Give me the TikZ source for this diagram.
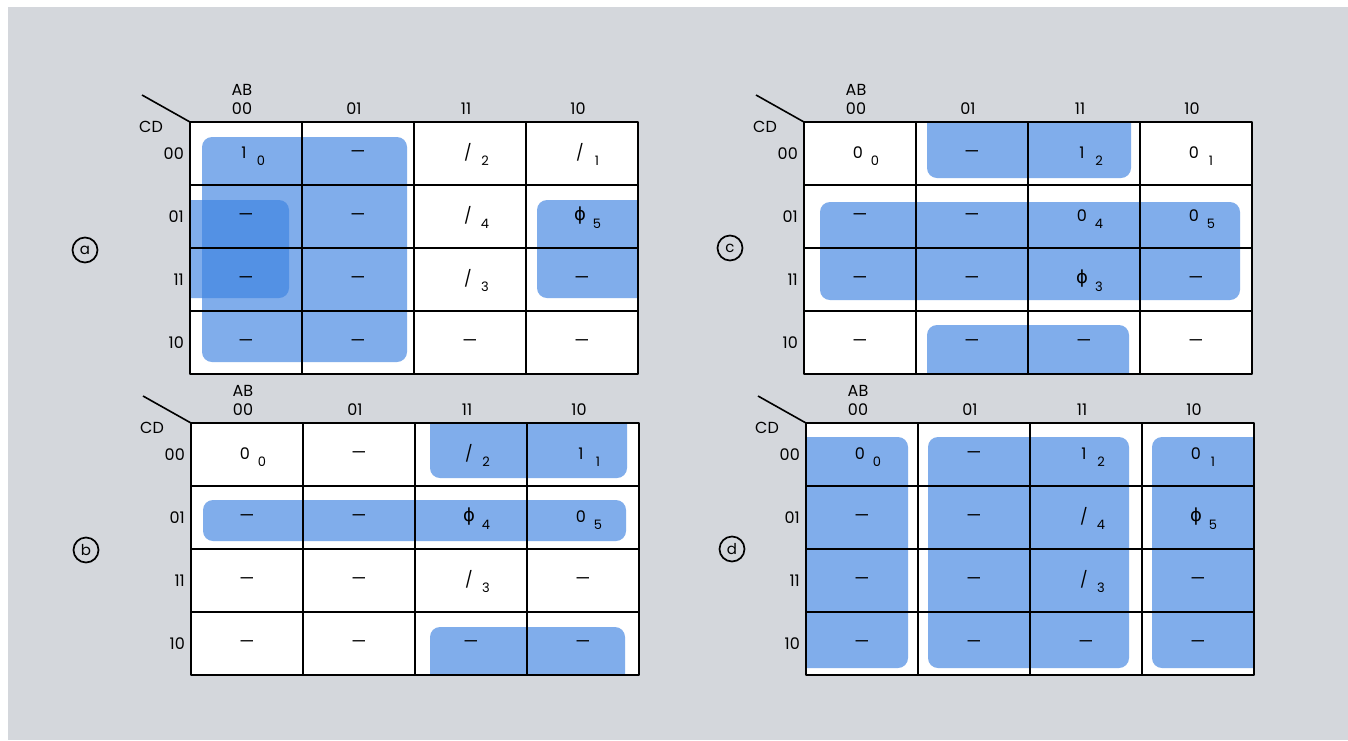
\documentclass[tikz,border=0pt]{standalone}
\usepackage{fontspec}
\setmainfont{Poppins}
\newfontfamily\symfont{DejaVu Sans}
\definecolor{paper}{RGB}{212,215,220}
\definecolor{kblue}{RGB}{60,130,225}
\tikzset{
	kfill/.style={fill=kblue,opacity=.65,rounded corners=10pt},
	val/.style={font=\fontsize{16}{16}\selectfont,inner sep=0pt},
	dsh/.style={font=\fontsize{17}{17}\selectfont,inner sep=0pt},
	sub/.style={font=\fontsize{13}{13}\selectfont,inner sep=0pt},
	lbl/.style={font=\fontsize{16}{16}\selectfont,inner sep=0pt},
	tag/.style={circle,draw,line width=1.7pt,minimum size=25pt,inner sep=0pt,font=\fontsize{15}{15}\selectfont},
}
\def\sl{/} \def\ph{{\symfont\fontsize{18}{18}\selectfont ϕ}}
% #1 name, #2 #3 top left corner, #4 entries, #5 blue groups
\newcommand\kmap[5]{%
	\begin{scope}[shift={(#2,#3)}]
		\fill[white] (0,0) rectangle (\mw,\mh);
		\begin{scope}
			\clip (0,0) rectangle (\mw,\mh);
			#5
		\end{scope}
		\foreach \i in {1,2,3} {
			\draw[line width=1.4pt] (\i*\cw,0) -- (\i*\cw,\mh);
			\draw[line width=1.4pt] (0,\i*\ch) -- (\mw,\i*\ch);}
		\draw[line width=2.6pt] (0,0) rectangle (\mw,\mh);
		\draw[line width=1.6pt] (-48,-27) -- (0,0);
		\node[lbl] (#1-cd) at (-39,5) {CD};
		\node[lbl] (#1-ab) at (0.5*\cw-4,-32) {AB};
		\foreach \k/\t in {1/00,2/01,3/11,4/10} {
			\node[lbl] (#1-c\k) at ({(\k-.5)*\cw-4},-13) {\t};
			\node[lbl,anchor=east] (#1-r\k) at ({-6},{(\k-.5)*\ch}) {\t};}
		\foreach \col/\row in {2/1,1/2,2/2,1/3,2/3,4/3,1/4,2/4,3/4,4/4}
			\node[dsh] (#1-\col\row) at ({(\col-.5)*\cw},{(\row-.5)*\ch+1}) {—};
		\foreach \col/\row/\val/\idx in {#4} {
			\node[val] (#1-\col\row) at ({(\col-.5)*\cw-2},{(\row-.5)*\ch-1}) {\val};
			\node[sub] (#1-\col\row s) at ({(\col-.5)*\cw+15},{(\row-.5)*\ch+7}) {\idx};}
	\end{scope}}

\begin{document}
\begin{tikzpicture}[x=1pt,y=-1pt,line join=round]
	\def\cw{112} \def\ch{63} % cell size
	\def\mw{448} \def\mh{252}
	\useasboundingbox (0,0) rectangle (1348,740);
	\fill[white] (0,0) rectangle (1348,740);
	\fill[paper] (8,7) rectangle (1348,740);
	% (a)
	\kmap{a}{190}{122}{1/1/1/0, 3/1/\sl/2, 4/1/\sl/1, 3/2/\sl/4, 4/2/\ph/5, 3/3/\sl/3}{
		\fill[kfill] (12,15) rectangle (217,240);
		\fill[kfill] (-30,78) rectangle (99,176);
		\fill[kfill] (347,78) rectangle (480,176);}
	% (b)
	\kmap{b}{191}{423}{1/1/0/0, 3/1/\sl/2, 4/1/1/1, 3/2/\ph/4, 4/2/0/5, 3/3/\sl/3}{
		\fill[kfill] (239,-30) rectangle (436,55);
		\fill[kfill] (239,204) rectangle (434,290);
		\fill[kfill] (12,77) rectangle (435,118);}
	% (c)
	\kmap{c}{804}{122}{1/1/0/0, 3/1/1/2, 4/1/0/1, 3/2/0/4, 4/2/0/5, 3/3/\ph/3}{
		\fill[kfill] (123,-30) rectangle (327,56);
		\fill[kfill] (123,203) rectangle (325,290);
		\fill[kfill] (16,80) rectangle (436,178);}
	% (d)
	\kmap{d}{806}{423}{1/1/0/0, 3/1/1/2, 4/1/0/1, 3/2/\sl/4, 4/2/\ph/5, 3/3/\sl/3}{
		\fill[kfill] (-30,14) rectangle (102,245);
		\fill[kfill] (122,14) rectangle (323,245);
		\fill[kfill] (346,14) rectangle (480,245);}
	\node[tag] (tag-a) at (85,250) {a};
	\node[tag] (tag-b) at (86,550) {b};
	\node[tag] (tag-c) at (730,248) {c};
	\node[tag] (tag-d) at (732,549) {d};
\end{tikzpicture}
\end{document}
